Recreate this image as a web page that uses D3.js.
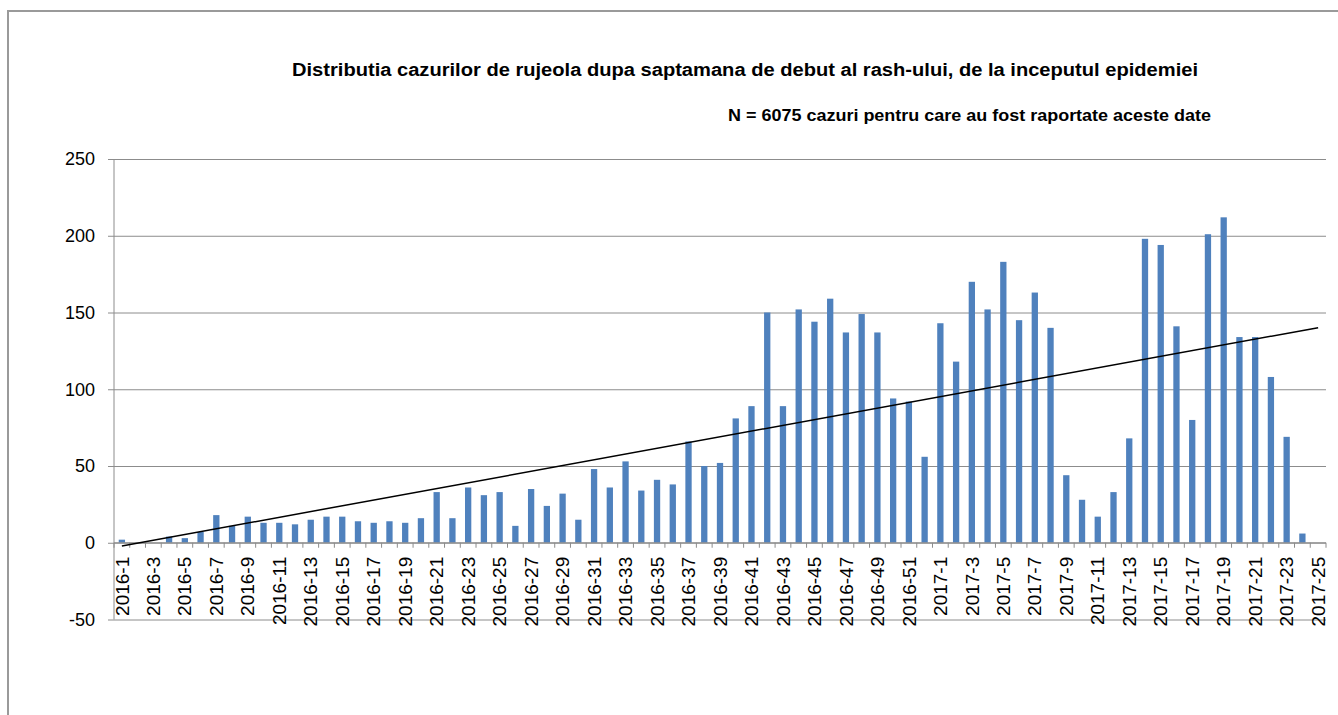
<!DOCTYPE html>
<html>
<head>
<meta charset="utf-8">
<script src="https://cdn.jsdelivr.net/npm/d3@7"></script>
<style>
  body { margin: 0; background: #fff; }
  svg { display: block; font-family: Arial, "Liberation Sans", sans-serif; }
  .grid line { stroke: #8c8c8c; stroke-width: 1; }
  .grid path { display: none; }
  .yaxis path { display: none; }
  .yaxis line { stroke: #8c8c8c; }
  .yaxis text { font-size: 18px; fill: #000; }
  .xaxis path, .xaxis line { display: none; }
  .xaxis text { font-size: 19px; fill: #000; }
</style>
</head>
<body>
<script>
var width = 1338,
    height = 715;

var weeks = [
  "2016-1","2016-2","2016-3","2016-4","2016-5","2016-6","2016-7","2016-8","2016-9","2016-10",
  "2016-11","2016-12","2016-13","2016-14","2016-15","2016-16","2016-17","2016-18","2016-19","2016-20",
  "2016-21","2016-22","2016-23","2016-24","2016-25","2016-26","2016-27","2016-28","2016-29","2016-30",
  "2016-31","2016-32","2016-33","2016-34","2016-35","2016-36","2016-37","2016-38","2016-39","2016-40",
  "2016-41","2016-42","2016-43","2016-44","2016-45","2016-46","2016-47","2016-48","2016-49","2016-50",
  "2016-51","2016-52",
  "2017-1","2017-2","2017-3","2017-4","2017-5","2017-6","2017-7","2017-8","2017-9","2017-10",
  "2017-11","2017-12","2017-13","2017-14","2017-15","2017-16","2017-17","2017-18","2017-19","2017-20",
  "2017-21","2017-22","2017-23","2017-24","2017-25"
];

var cases = [
  2, 0, 0, 4, 3, 7, 18, 11, 17, 13,
  13, 12, 15, 17, 17, 14, 13, 14, 13, 16,
  33, 16, 36, 31, 33, 11, 35, 24, 32, 15,
  48, 36, 53, 34, 41, 38, 66, 50, 52, 81,
  89, 150, 89, 152, 144, 159, 137, 149, 137, 94,
  92, 56,
  143, 118, 170, 152, 183, 145, 163, 140, 44, 28,
  17, 33, 68, 198, 194, 141, 80, 201, 212, 134,
  134, 108, 69, 6, 0
];

var yTicks = [-50, 0, 50, 100, 150, 200, 250];

var title = "Distributia cazurilor de rujeola dupa saptamana de debut al rash-ului, de la inceputul epidemiei";
var subtitle = "N = 6075 cazuri pentru care au fost raportate aceste date";

var plotLeft = 114, plotRight = 1326, plotTop = 159, plotBottom = 619.5;

var svg = d3.select("body")
  .append("svg")
  .attr("width", width)
  .attr("height", height);

// chart frame
svg.append("rect")
  .attr("x", 8).attr("y", 11)
  .attr("width", 1400).attr("height", 800)
  .attr("fill", "none")
  .attr("stroke", "#9a9a9a")
  .attr("stroke-width", 2);

var x = d3.scaleBand()
  .domain(weeks)
  .range([plotLeft, plotRight])
  .paddingInner(0.6)
  .paddingOuter(0.3);

var y = d3.scaleLinear()
  .domain([-50, 250])
  .range([plotBottom, plotTop]);

// gridlines
svg.append("g")
  .attr("class", "grid")
  .attr("transform", "translate(" + plotLeft + ",0)")
  .call(d3.axisLeft(y).tickValues(yTicks).tickSize(-(plotRight - plotLeft)).tickFormat(""));

// y axis
svg.append("g")
  .attr("class", "yaxis")
  .attr("transform", "translate(" + plotLeft + ",0)")
  .call(d3.axisLeft(y).tickValues(yTicks).tickSize(6).tickPadding(13)
    .tickFormat(function(d) { return String(d); }));

svg.append("line")
  .attr("x1", plotLeft).attr("x2", plotLeft)
  .attr("y1", y(250)).attr("y2", y(-50))
  .attr("stroke", "#8c8c8c");

// bars
svg.selectAll(".bar")
  .data(cases)
  .enter()
  .append("rect")
  .attr("class", "bar")
  .attr("x", function(d, i) { return x(weeks[i]); })
  .attr("width", x.bandwidth())
  .attr("y", function(d) { return y(d); })
  .attr("height", function(d) { return y(0) - y(d); })
  .attr("fill", "#4f81bd");

// category axis line + boundary ticks
svg.append("line")
  .attr("x1", plotLeft).attr("x2", plotRight)
  .attr("y1", y(0)).attr("y2", y(0))
  .attr("stroke", "#8c8c8c");

svg.selectAll(".xtick")
  .data(d3.range(weeks.length + 1))
  .enter()
  .append("line")
  .attr("class", "xtick")
  .attr("x1", function(i) { return plotLeft + i * x.step(); })
  .attr("x2", function(i) { return plotLeft + i * x.step(); })
  .attr("y1", y(0))
  .attr("y2", y(0) + 5)
  .attr("stroke", "#8c8c8c");

// category labels
var xAxis = svg.append("g")
  .attr("class", "xaxis")
  .attr("transform", "translate(0," + y(0) + ")")
  .call(d3.axisBottom(x)
    .tickValues(weeks.filter(function(d, i) { return i % 2 === 0; }))
    .tickSize(0));

xAxis.selectAll("text")
  .attr("text-anchor", "end")
  .attr("transform", "translate(0,14) rotate(-90)")
  .attr("x", 0)
  .attr("y", 0)
  .attr("dy", "0.35em");

// linear trendline (least squares over the weekly counts)
var n = cases.length;
var mx = d3.mean(d3.range(n)), my = d3.mean(cases);
var sxy = d3.sum(cases, function(d, i) { return (i - mx) * (d - my); });
var sxx = d3.sum(d3.range(n), function(i) { return (i - mx) * (i - mx); });
var slope = sxy / sxx, intercept = my - slope * mx;

var trend = [0, n - 1].map(function(i) {
  return [x(weeks[i]) + x.bandwidth() / 2, y(intercept + slope * i)];
});

svg.append("path")
  .attr("d", d3.line()(trend))
  .attr("fill", "none")
  .attr("stroke", "#000")
  .attr("stroke-width", 1.5);

// titles
svg.append("text")
  .attr("x", 292)
  .attr("y", 76)
  .attr("font-size", 18)
  .attr("font-weight", "bold")
  .attr("textLength", 906)
  .attr("lengthAdjust", "spacingAndGlyphs")
  .text(title);

svg.append("text")
  .attr("x", 728)
  .attr("y", 121)
  .attr("font-size", 16)
  .attr("font-weight", "bold")
  .attr("textLength", 483)
  .attr("lengthAdjust", "spacingAndGlyphs")
  .text(subtitle);
</script>
</body>
</html>
